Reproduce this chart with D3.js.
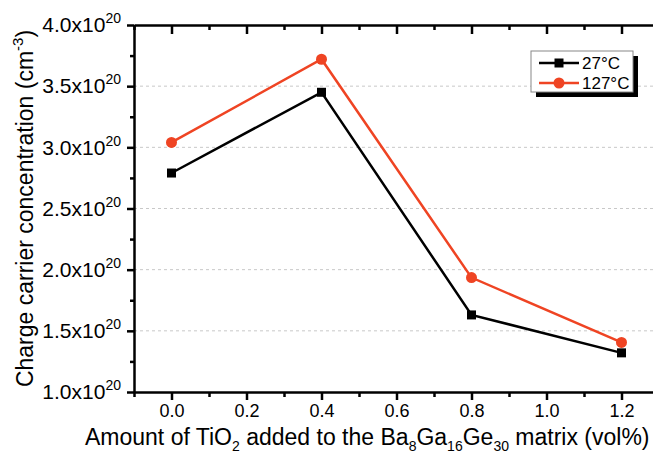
<!DOCTYPE html>
<html>
<head>
<meta charset="utf-8">
<script src="https://cdn.jsdelivr.net/npm/d3@7"></script>
<style>
  body { margin: 0; background: #fff; }
  svg { font-family: "Liberation Sans", Arial, sans-serif; }
  .axis { font-family: "Liberation Sans", Arial, sans-serif; }
  .axis path, .axis line { stroke: #000; stroke-width: 2.5; }
  .axis text { font-size: 18px; fill: #000; }
  .yax text { font-size: 21px; }
</style>
</head>
<body>
<svg width="653" height="455"></svg>
<script>
// values
const tio2 = [0.0, 0.4, 0.8, 1.2];
const n27 = [2.79, 3.45, 1.63, 1.32];
const n127 = [3.04, 3.72, 1.935, 1.405];
const seriesNames = ["27°C", "127°C"];
const xTicks = [0.0, 0.2, 0.4, 0.6, 0.8, 1.0, 1.2];
const yTicks = [1.0, 1.5, 2.0, 2.5, 3.0, 3.5, 4.0];

const svg = d3.select("svg");

const margin = {top: 25, right: -6, bottom: 63, left: 134};
const width = 653 - margin.left - margin.right;
const height = 455 - margin.top - margin.bottom;

const x = d3.scaleLinear().domain([-0.1, 1.3]).range([0, width]);
const y = d3.scaleLinear().domain([1.0, 4.0]).range([height, 0]);

const g = svg.append("g")
    .attr("transform", "translate(" + margin.left + "," + margin.top + ")");

// dashed grid
g.append("g")
    .selectAll("line")
    .data(yTicks.filter(d => d > 1 && d < 4))
    .enter().append("line")
    .attr("x1", 0).attr("x2", width)
    .attr("y1", d => y(d)).attr("y2", d => y(d))
    .attr("stroke", "#c8c8c8")
    .attr("stroke-width", 1)
    .attr("stroke-dasharray", "3,3");

// minor ticks
const xMinor = d3.range(-0.1, 1.31, 0.2).map(d => +d.toFixed(2));
const yMinor = d3.range(1.25, 4, 0.5);

g.append("g")
    .attr("class", "axis")
    .attr("transform", "translate(0," + height + ")")
    .call(d3.axisBottom(x).tickValues(xMinor).tickSize(5).tickFormat(""))
    .select(".domain").remove();

g.append("g")
    .attr("class", "axis")
    .call(d3.axisTop(x).tickValues(xMinor).tickSize(-5).tickFormat(""))
    .select(".domain").remove();

g.append("g")
    .attr("class", "axis")
    .call(d3.axisLeft(y).tickValues(yMinor).tickSize(4).tickFormat(""))
    .select(".domain").remove();

// x axis
g.append("g")
    .attr("class", "axis")
    .attr("transform", "translate(0," + height + ")")
    .call(d3.axisBottom(x).tickValues(xTicks).tickSize(8).tickSizeOuter(0)
        .tickPadding(4).tickFormat(d3.format(".1f")));

// top axis
g.append("g")
    .attr("class", "axis")
    .call(d3.axisTop(x).tickValues(xTicks).tickSize(-9).tickSizeOuter(0).tickFormat(""));

// y axis
const yAxis = g.append("g")
    .attr("class", "axis yax")
    .call(d3.axisLeft(y).tickValues(yTicks).tickSize(7).tickSizeOuter(0).tickPadding(6));

yAxis.selectAll(".tick text")
    .each(function(d) {
        const t = d3.select(this).text("");
        t.append("tspan").text(d3.format(".1f")(d) + "x10");
        t.append("tspan").attr("dy", "-9").attr("font-size", "14px").text("20");
    });

// lines
const line = d3.line()
    .x((d, i) => x(tio2[i]))
    .y(d => y(d));

g.append("path")
    .datum(n27)
    .attr("fill", "none")
    .attr("stroke", "#000")
    .attr("stroke-width", 2.5)
    .attr("d", line);

g.append("path")
    .datum(n127)
    .attr("fill", "none")
    .attr("stroke", "#ef4423")
    .attr("stroke-width", 2.5)
    .attr("d", line);

g.selectAll(".sq")
    .data(n27)
    .enter().append("rect")
    .attr("x", (d, i) => x(tio2[i]) - 4.5)
    .attr("y", d => y(d) - 4.5)
    .attr("width", 9)
    .attr("height", 9)
    .attr("fill", "#000");

g.selectAll(".dot")
    .data(n127)
    .enter().append("circle")
    .attr("cx", (d, i) => x(tio2[i]))
    .attr("cy", d => y(d))
    .attr("r", 5.5)
    .attr("fill", "#ef4423");

// legend
const lg = svg.append("g").attr("transform", "translate(531,51)");
lg.append("rect").attr("x", 5).attr("y", 5).attr("width", 102).attr("height", 41).attr("fill", "#000");
lg.append("rect").attr("width", 102).attr("height", 41)
    .attr("fill", "#fff").attr("stroke", "#888").attr("stroke-width", 1);

const colors = ["#000", "#ef4423"];
seriesNames.forEach((name, i) => {
    const yy = 12 + i * 20;
    lg.append("line").attr("x1", 8).attr("x2", 48).attr("y1", yy).attr("y2", yy)
        .attr("stroke", colors[i]).attr("stroke-width", 2.5);
    if (i === 0) {
        lg.append("rect").attr("x", 23.5).attr("y", yy - 4.5).attr("width", 9).attr("height", 9).attr("fill", "#000");
    } else {
        lg.append("circle").attr("cx", 28).attr("cy", yy).attr("r", 5.5).attr("fill", colors[i]);
    }
    lg.append("text").attr("x", 51).attr("y", yy + 6)
        .attr("font-size", "17px").text(name);
});

// axis titles
const xt = svg.append("text")
    .attr("x", 85)
    .attr("y", 445)
    .attr("font-size", "23px");
const xParts = [["Amount of TiO", 0], ["2", 1], [" added to the Ba", 0], ["8", 1], ["Ga", 0], ["16", 1],
    ["Ge", 0], ["30", 1], [" matrix (vol%)", 0]];
xParts.forEach(([s, sub], i) => {
    xt.append("tspan")
        .attr("font-size", sub ? "14px" : "23px")
        .attr("dy", sub ? 6 : (i > 0 ? -6 : 0))
        .text(s);
});

const yt = svg.append("text")
    .attr("transform", "translate(33," + (margin.top + height / 2) + ") rotate(-90)")
    .attr("text-anchor", "middle")
    .attr("font-size", "23px");
yt.append("tspan").text("Charge carrier concentration (cm");
yt.append("tspan").attr("font-size", "15px").attr("dy", -10).text("-3");
yt.append("tspan").attr("dy", 10).text(")");
</script>
</body>
</html>
